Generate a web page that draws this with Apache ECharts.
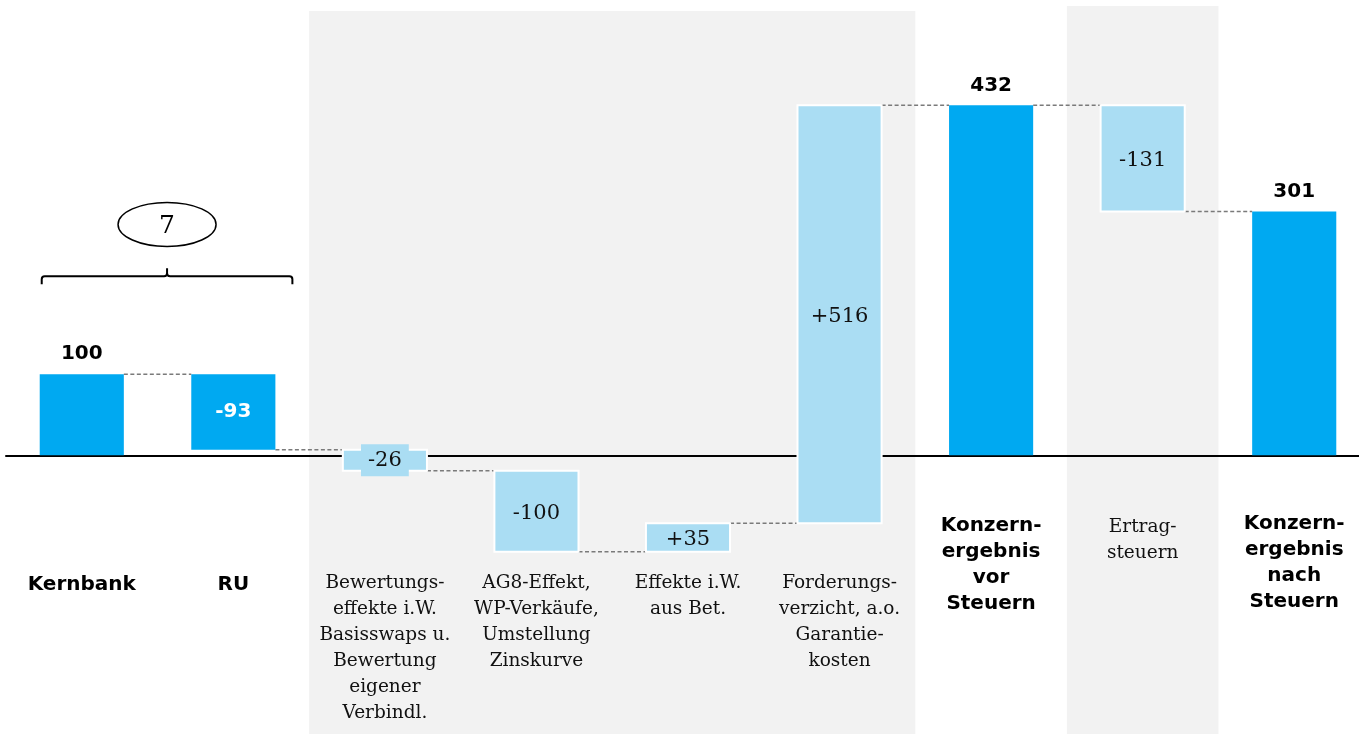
<!DOCTYPE html>
<html>
<head>
<meta charset="utf-8">
<script src="https://cdn.jsdelivr.net/npm/echarts@6/dist/echarts.min.js"></script>
<style>
html,body{margin:0;padding:0;background:#fff;}
#chart{width:1359px;height:734px;}
</style>
</head>
<body>
<div id="chart"></div>
<script>
// ---- data ----
const categories = [
  'Kernbank',
  'RU',
  'Bewertungs-\neffekte i.W.\nBasisswaps u.\nBewertung\neigener\nVerbindl.',
  'AG8-Effekt,\nWP-Verkäufe,\nUmstellung\nZinskurve',
  'Effekte i.W.\naus Bet.',
  'Forderungs-\nverzicht, a.o.\nGarantie-\nkosten',
  'Konzern-\nergebnis\nvor\nSteuern',
  'Ertrag-\nsteuern',
  'Konzern-\nergebnis\nnach\nSteuern'
];
const values = [100, -93, -26, -100, 35, 516, 432, -131, 301];
const kinds = ['total', 'step', 'step', 'step', 'step', 'step', 'total', 'step', 'total'];
const valueLabels = ['100', '-93', '-26', '-100', '+35', '+516', '432', '-131', '301'];
const subtotal = { from: 0, to: 1, value: 7, label: '7' };
const shadedGroups = [[2, 5], [7, 7]];

// ---- derived waterfall levels ----
const starts = [], ends = [];
let run = 0;
values.forEach((v, i) => {
  if (kinds[i] === 'total') { starts.push(0); ends.push(v); run = v; }
  else { starts.push(run); ends.push(run + v); run += v; }
});

// ---- styles ----
const DARK = '#00A9F1', LIGHT = '#AADDF3', PANEL = '#F2F2F2';
const SANS = 'DejaVu Sans', SERIF = 'DejaVu Serif';
const isDark = i => i < 2 || kinds[i] === 'total';
const isBoldLabel = i => i < 2 || kinds[i] === 'total';
const labelOffset = [116, 116, 115, 115, 115, 115, 57, 59, 55];
const BAR_RATIO = 0.555;

const chart = echarts.init(document.getElementById('chart'));
const option = {
  animation: false,
  backgroundColor: '#fff',
  grid: { left: 6, top: 0, width: 1364, height: 734, containLabel: false, outerBoundsMode: 'none' },
  xAxis: {
    type: 'category',
    data: categories,
    axisLine: { onZero: true, lineStyle: { color: '#000', width: 2 } },
    axisTick: { show: false },
    axisLabel: { show: false },
    splitLine: { show: false }
  },
  yAxis: { type: 'value', min: -344, max: 562, show: false, splitLine: { show: false } },
  series: [
    { // shaded panels
      type: 'custom', z: -10, silent: true,
      data: shadedGroups.map((g, k) => [g[0], g[1], k]),
      encode: { x: 0 },
      renderItem: (params, api) => {
        const a = api.value(0), b = api.value(1), k = api.value(2);
        const band = api.size([1, 0])[0];
        const cs = params.coordSys;
        const x0 = api.coord([a, 0])[0] - band / 2;
        const x1 = api.coord([b, 0])[0] + band / 2;
        const topOff = [11, 6][k];
        return { type: 'rect', shape: { x: x0, y: cs.y + topOff, width: x1 - x0, height: cs.height - topOff }, style: { fill: PANEL } };
      }
    },
    { // category labels under the axis
      type: 'custom', z: 3, silent: true,
      data: categories.map((c, i) => [i, 0]),
      encode: { x: 0, y: 1 },
      renderItem: (params, api) => {
        const i = api.value(0);
        const p = api.coord([i, 0]);
        const bold = isBoldLabel(i);
        return {
          type: 'text', x: p[0], y: p[1] + labelOffset[i],
          style: {
            text: categories[i],
            font: bold ? 'bold 20px "' + SANS + '"' : '18.5px "' + SERIF + '"',
            fill: bold ? '#000' : '#111',
            lineHeight: 26, align: 'center', verticalAlign: 'top'
          }
        };
      }
    },
    { // connectors
      type: 'custom', z: 4, silent: true,
      data: ends.slice(0, -1).map((lvl, i) => [i, lvl]),
      encode: { x: 0, y: 1 },
      renderItem: (params, api) => {
        const i = api.value(0), lvl = api.value(1);
        const bw = api.size([1, 0])[0] * BAR_RATIO;
        const p = api.coord([i, lvl]), q = api.coord([i + 1, lvl]);
        return { type: 'line', shape: { x1: p[0] + bw / 2, y1: p[1], x2: q[0] - bw / 2, y2: q[1] },
          style: { stroke: '#7a7a7a', lineWidth: 1.5, lineDash: [4, 2.5] } };
      }
    },
    { // bars + labels
      type: 'custom', z: 5,
      data: values.map((v, i) => [i, starts[i], ends[i]]),
      encode: { x: 0, y: [1, 2] },
      renderItem: (params, api) => {
        const i = api.value(0), s = api.value(1), e = api.value(2);
        const bw = api.size([1, 0])[0] * BAR_RATIO;
        const pTop = api.coord([i, Math.max(s, e)]);
        const pBot = api.coord([i, Math.min(s, e)]);
        const dark = isDark(i);
        const children = [{
          type: 'rect',
          shape: { x: pTop[0] - bw / 2, y: pTop[1], width: bw, height: pBot[1] - pTop[1] },
          style: dark ? { fill: DARK } : { fill: LIGHT, stroke: '#fff', lineWidth: 2 }
        }];
        let txt;
        const cx = pTop[0], cy = (pTop[1] + pBot[1]) / 2;
        if (kinds[i] === 'total') {
          txt = { x: cx, y: pTop[1] - 20, style: { text: valueLabels[i], font: 'bold 20px "' + SANS + '"', fill: '#000', align: 'center', verticalAlign: 'middle' } };
        } else if (dark) {
          txt = { x: cx, y: cy, style: { text: valueLabels[i], font: 'bold 20px "' + SANS + '"', fill: '#fff', align: 'center', verticalAlign: 'middle' } };
        } else {
          const small = (pBot[1] - pTop[1]) < 25;
          txt = { x: cx, y: cy + (small ? 0 : 2), style: Object.assign({ text: valueLabels[i], font: '21px "' + SERIF + '"', fill: '#111', align: 'center', verticalAlign: 'middle' },
            small ? { backgroundColor: LIGHT, padding: [4, 7], lineHeight: 24 } : {}) };
        }
        txt.type = 'text';
        txt.z2 = 10;
        children.push(txt);
        return { type: 'group', children };
      }
    },
    { // bracket with subtotal
      type: 'custom', z: 6, silent: true,
      data: [[subtotal.from, subtotal.to, subtotal.value]],
      encode: { x: [0, 1] },
      renderItem: (params, api) => {
        const a = api.value(0), b = api.value(1);
        const bw = api.size([1, 0])[0] * BAR_RATIO;
        const L = api.coord([a, 0])[0] - bw / 2 + 2;
        const R = api.coord([b, 0])[0] + bw / 2 + 17;
        const C = (L + R) / 2;
        const yb = api.coord([0, 221])[1];
        const ey = api.coord([0, 285])[1];
        const path = `M${L},${yb + 8} L${L},${yb + 3} Q${L},${yb} ${L + 3},${yb} L${C - 3},${yb} Q${C},${yb} ${C},${yb - 3} L${C},${yb - 8} M${C},${yb - 3} Q${C},${yb} ${C + 3},${yb} L${R - 3},${yb} Q${R},${yb} ${R},${yb + 3} L${R},${yb + 8}`;
        return { type: 'group', children: [
          { type: 'path', shape: { pathData: path }, style: { stroke: '#000', lineWidth: 2, fill: null } },
          { type: 'ellipse', shape: { cx: C, cy: ey, rx: 49, ry: 22 }, style: { stroke: '#000', lineWidth: 1.5, fill: '#fff' } },
          { type: 'text', x: C, y: ey + 2, style: { text: subtotal.label, font: '25px "' + SERIF + '"', fill: '#000', align: 'center', verticalAlign: 'middle' } }
        ] };
      }
    }
  ]
};
chart.setOption(option);
</script>
</body>
</html>
